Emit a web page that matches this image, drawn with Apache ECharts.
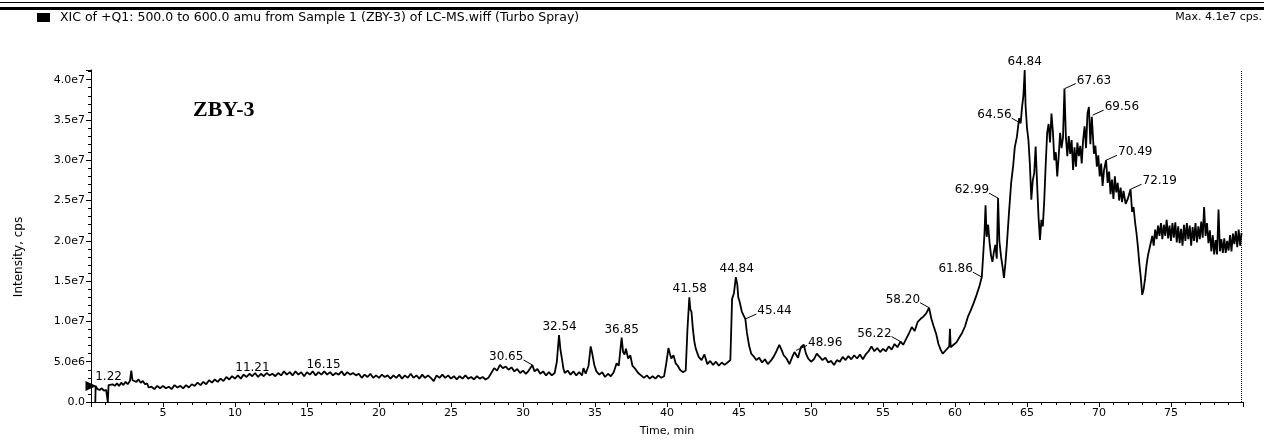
<!DOCTYPE html>
<html><head><meta charset="utf-8">
<script src="https://cdn.jsdelivr.net/npm/echarts@6/dist/echarts.min.js"></script>
<style>html,body{margin:0;padding:0;background:#fff}#c{width:1264px;height:442px}</style>
</head><body><div id="c"></div>
<script>
// XIC trace: [time (min), intensity (x1e6 cps)]
const trace = [
[0.3,0],[0.32,2.0],[0.45,1.6],[0.6,1.5],[0.75,1.7],[0.9,1.4],[1.05,1.5],[1.15,1.3],[1.17,0],[1.2,0],[1.22,2.1],[1.35,1.9],[1.5,2.2],[1.65,2.0],[1.8,2.3],[1.95,2.0],[2.1,2.4],[2.25,2.1],[2.4,2.5],[2.55,2.2],[2.7,2.6],[2.8,3.9],[2.88,2.7],[3.0,2.9],[3.15,2.5],[3.3,2.8],[3.45,2.4],[3.6,2.6],[3.75,2.2],[3.9,2.3],[4.0,1.8],
[4.2,1.9],[4.4,1.6],[4.6,2.0],[4.8,1.7],[5.0,2.0],[5.2,1.7],[5.4,1.9],[5.6,1.6],[5.8,2.1],[6.0,1.8],[6.2,2.0],[6.4,1.7],[6.6,2.1],[6.8,1.8],[7.0,2.2],
[7.2,2.0],[7.4,2.4],[7.6,2.1],[7.8,2.5],[8.0,2.2],[8.2,2.7],[8.4,2.4],[8.6,2.8],[8.8,2.5],[9.0,2.9],[9.2,2.6],
[9.4,3.1],[9.6,2.8],[9.8,3.2],[10.0,2.9],[10.2,3.3],[10.4,2.9],[10.6,3.4],[10.8,3.1],[11.0,3.5],[11.2,3.2],[11.4,3.6],[11.6,3.1],[11.8,3.5],[12.0,3.2],[12.2,3.6],[12.4,3.3],[12.6,3.5],[12.8,3.2],[13.0,3.6],
[13.2,3.3],[13.4,3.8],[13.6,3.4],[13.8,3.7],[14.0,3.3],[14.2,3.8],[14.4,3.4],[14.6,3.7],[14.8,3.2],[15.0,3.7],[15.2,3.4],[15.4,3.8],[15.6,3.3],[15.8,3.7],[16.0,3.4],[16.2,3.8],[16.4,3.4],[16.6,3.7],[16.8,3.3],[17.0,3.6],[17.2,3.4],[17.4,3.8],[17.6,3.3],[17.8,3.7],[18.0,3.4],[18.2,3.6],[18.4,3.3],
[18.6,3.5],[18.8,3.0],[19.0,3.4],[19.2,3.1],[19.4,3.5],[19.6,3.0],[19.8,3.3],[20.0,3.0],[20.2,3.4],[20.4,3.1],[20.6,3.3],[20.8,2.9],[21.0,3.3],
[21.2,3.0],[21.4,3.4],[21.6,2.9],[21.8,3.3],[22.0,3.0],[22.2,3.5],[22.4,3.0],[22.6,3.3],[22.8,2.9],[23.0,3.4],[23.2,3.0],[23.4,3.3],[23.6,3.0],[23.8,2.6],[24.0,3.3],[24.2,3.0],[24.4,3.4],
[24.6,3.0],[24.8,3.3],[25.0,2.9],[25.2,3.2],[25.4,2.8],[25.6,3.2],[25.8,2.9],[26.0,3.3],[26.2,2.9],[26.4,3.1],[26.6,2.8],[26.8,3.2],[27.0,2.9],[27.2,3.1],[27.4,2.8],[27.6,3.0],
[27.8,3.6],[28.0,4.2],[28.2,3.9],[28.4,4.6],[28.6,4.2],[28.8,4.4],[29.0,4.0],[29.2,4.3],[29.4,3.8],[29.6,4.1],[29.8,3.6],[30.0,3.9],[30.2,3.5],[30.4,3.9],[30.65,4.6],[30.8,3.8],[31.0,4.1],[31.2,3.5],[31.4,3.8],[31.6,3.3],[31.8,3.7],[32.0,3.3],[32.2,3.6],
[32.35,5.0],[32.5,8.3],[32.6,6.5],[32.7,5.4],[32.8,4.2],[32.9,3.6],[33.1,3.9],[33.3,3.4],[33.5,3.8],[33.7,3.3],[33.9,3.7],[34.1,3.3],[34.2,4.2],[34.35,3.5],
[34.55,4.5],[34.7,6.9],[34.8,6.1],[34.95,4.6],[35.1,3.8],[35.3,3.4],[35.5,3.7],[35.7,3.1],[35.9,3.5],[36.1,3.2],[36.3,3.7],
[36.5,4.8],[36.65,4.5],[36.85,8.0],[36.95,6.2],[37.05,5.9],[37.15,6.6],[37.3,5.4],[37.45,5.8],[37.6,4.5],[37.8,4.1],[38.0,3.6],[38.2,3.3],[38.4,3.0],[38.6,3.3],[38.8,2.9],[39.0,3.2],[39.2,2.9],[39.4,3.3],[39.6,3.0],[39.8,3.2],
[39.95,4.8],[40.1,6.7],[40.2,6.0],[40.3,5.4],[40.45,5.8],[40.6,4.8],[40.75,4.5],[40.9,4.0],[41.1,3.7],[41.3,3.9],
[41.42,9.0],[41.55,13.0],[41.62,11.5],[41.7,11.2],[41.8,9.0],[41.9,7.5],[42.0,6.6],[42.2,5.6],[42.4,5.2],[42.6,5.9],[42.8,4.7],[43.0,5.1],[43.2,4.6],[43.4,5.0],[43.6,4.5],[43.8,4.9],[44.0,4.6],[44.2,4.9],[44.4,5.2],
[44.52,12.8],[44.65,13.5],[44.78,15.5],[44.88,14.6],[44.95,13.0],[45.05,12.4],[45.2,11.2],[45.3,10.8],[45.44,10.3],[45.55,8.6],[45.7,7.0],[45.85,6.0],[46.0,5.7],[46.2,5.2],[46.4,5.5],[46.6,4.9],[46.8,5.3],[47.0,4.7],[47.2,5.1],[47.4,5.6],[47.6,6.3],[47.8,7.1],[47.95,6.5],[48.1,5.8],[48.3,5.4],[48.5,4.7],[48.7,5.6],[48.85,6.2],[48.96,6.4],[49.1,5.5],[49.3,6.8],[49.5,7.1],[49.65,6.0],[49.8,5.4],
[50.0,5.0],[50.2,5.3],[50.4,6.0],[50.6,5.6],[50.8,5.2],[51.0,5.5],[51.2,4.9],[51.4,5.1],[51.6,4.6],[51.8,5.2],[52.0,5.0],[52.2,5.6],[52.4,5.2],[52.6,5.7],[52.8,5.3],[53.0,5.8],[53.2,5.4],[53.4,5.9],[53.6,5.3],[53.8,5.9],[54.0,6.3],[54.2,6.9],[54.4,6.3],[54.6,6.7],[54.8,6.2],[55.0,6.6],[55.2,6.3],[55.4,6.9],[55.6,6.5],[55.8,7.2],[56.0,6.8],[56.22,7.5],[56.4,7.1],[56.6,7.8],[56.8,8.5],[57.0,9.3],[57.2,8.8],[57.4,9.9],[57.6,10.3],[57.8,10.6],[58.0,11.0],[58.2,11.7],
[58.35,10.4],[58.5,9.5],[58.7,8.4],[58.85,7.2],[59.0,6.5],[59.15,6.0],[59.3,6.3],[59.45,6.6],[59.6,6.9],[59.65,9.1],[59.7,6.8],[59.9,7.1],[60.1,7.4],[60.3,8.0],[60.5,8.6],[60.7,9.4],[60.9,10.6],[61.1,11.4],[61.3,12.3],[61.5,13.3],[61.7,14.4],[61.86,15.5],
[61.95,18.0],[62.05,21.0],[62.12,24.4],[62.2,20.5],[62.3,22.0],[62.4,19.8],[62.5,18.2],[62.6,17.4],[62.7,18.6],[62.8,19.5],[62.9,17.8],[62.99,25.3],[63.08,20.0],[63.2,18.0],[63.3,16.8],[63.4,15.4],[63.5,17.2],[63.6,19.5],[63.75,23.5],[63.9,27.2],[64.05,29.5],[64.15,31.6],[64.3,32.9],[64.45,35.2],[64.56,34.6],[64.65,36.5],[64.75,38.0],[64.84,41.2],[64.9,36.8],
[65.0,34.0],[65.1,32.5],[65.2,29.5],[65.3,25.1],[65.4,27.5],[65.5,28.4],[65.6,31.7],[65.7,27.1],[65.8,23.0],[65.9,20.1],[66.0,22.6],[66.1,21.8],[66.2,25.1],[66.3,29.5],[66.4,33.4],[66.5,34.5],[66.6,32.2],[66.7,35.8],[66.8,33.5],[66.9,30.0],[67.0,31.0],[67.1,28.0],[67.2,30.5],[67.3,33.4],[67.4,31.5],[67.5,32.8],[67.6,38.9],[67.7,32.9],[67.8,30.5],[67.9,33.0],
[68.0,30.8],[68.1,32.5],[68.2,28.8],[68.3,31.6],[68.4,29.2],[68.5,32.2],[68.6,30.5],[68.7,31.8],[68.8,29.6],[68.9,32.6],[69.0,34.2],[69.1,31.5],[69.2,35.8],[69.3,36.6],[69.4,32.0],[69.5,35.4],[69.56,35.6],[69.65,30.8],[69.75,31.8],[69.85,29.2],[69.95,30.6],
[70.05,28.0],[70.15,29.6],[70.25,26.8],[70.35,28.8],[70.49,30.0],[70.6,27.2],[70.7,28.6],[70.8,25.8],[70.9,27.6],[71.0,25.2],[71.1,28.0],[71.2,26.0],[71.3,27.2],[71.4,25.0],[71.5,26.6],[71.6,24.8],[71.7,26.2],[71.85,24.6],[72.0,25.2],[72.19,26.4],[72.3,23.6],[72.4,24.2],[72.5,22.4],[72.6,21.0],[72.7,19.3],[72.8,17.2],[72.9,15.5],
[73.0,13.3],[73.1,14.0],[73.2,15.3],[73.3,17.0],[73.4,18.2],[73.5,19.0],[73.6,19.8],[73.7,20.6],[73.8,19.4],[73.9,21.4],[74.0,20.2],[74.1,21.9],[74.2,20.6],[74.3,22.2],[74.4,20.2],[74.5,22.0],[74.6,20.6],[74.7,22.6],[74.8,20.3],[74.9,21.9],
[75.0,20.0],[75.1,22.2],[75.2,20.4],[75.3,22.3],[75.4,19.8],[75.5,21.8],[75.6,19.7],[75.7,21.5],[75.8,19.4],[75.9,22.0],[76.0,20.0],[76.1,22.2],[76.2,20.2],[76.3,21.9],[76.4,19.4],[76.5,21.7],[76.6,20.0],[76.7,22.2],[76.8,19.8],[76.9,21.8],
[77.0,20.2],[77.1,22.4],[77.2,20.4],[77.3,24.2],[77.4,20.6],[77.5,22.2],[77.6,19.7],[77.7,21.3],[77.8,18.7],[77.9,20.7],[78.0,18.3],[78.1,20.1],[78.2,18.3],[78.3,23.9],[78.4,18.7],[78.5,20.2],[78.6,18.5],[78.7,20.3],[78.8,18.5],[78.9,20.0],
[79.0,18.8],[79.1,20.7],[79.2,18.7],[79.3,20.9],[79.4,19.6],[79.5,21.2],[79.6,19.2],[79.7,21.4],[79.8,19.4],[79.9,21.0]
];

// Annotated peaks: retention time (min) and intensity at the annotation point (x1e6 cps)
const peakTimes  = [1.22, 11.21, 16.15, 30.65, 32.54, 36.85, 41.58, 44.84, 45.44, 48.96, 56.22, 58.20, 61.86, 62.99, 64.56, 64.84, 67.63, 69.56, 70.49, 72.19];
const peakValues = [2.1,  3.3,   3.6,   4.6,   8.3,   8.0,   13.0,  15.5,  10.3,  6.4,   7.5,   11.7,  15.5,  25.3,  34.6,  41.2,  38.9,  35.6,  30.0,  26.4];

const scanEnd = 79.9;
const traceStart = [0, 2.0];
const titleText = 'XIC of +Q1: 500.0 to 600.0 amu from Sample 1 (ZBY-3) of LC-MS.wiff (Turbo Spray)';
const maxText = 'Max. 4.1e7 cps.';
const sampleText = 'ZBY-3';

// --- styling: which side each peak label sits on ---
const leftLabeled = [30.65, 56.22, 58.20, 61.86, 62.99, 64.56];
const rightLabeled = [45.44, 48.96, 67.63, 69.56, 70.49, 72.19];
const FONT = 'DejaVu Sans';
const peakSide = peakTimes.map(t => leftLabeled.includes(t) ? 'left' : (rightLabeled.includes(t) ? 'right' : 'top'));

function renderPeakLabel(params, api) {
  const t = api.value(0);
  const pt = api.coord([t, api.value(1)]);
  const side = peakSide[params.dataIndex];
  const txt = t.toFixed(2);
  const font = '12px "DejaVu Sans"';
  if (side === 'top') {
    return { type: 'text', x: pt[0], y: pt[1] - 2,
      style: { text: txt, font: font, fill: '#000', align: 'center', verticalAlign: 'bottom' } };
  }
  const gap = side === 'left' ? -9 : 12;
  const dy = -8;
  return { type: 'group', children: [
    { type: 'line', shape: { x1: pt[0], y1: pt[1], x2: pt[0] + (side === 'left' ? -9 : 11), y2: pt[1] + dy + 3 },
      style: { stroke: '#000', lineWidth: 1 } },
    { type: 'text', x: pt[0] + gap, y: pt[1] + dy,
      style: { text: txt, font: font, fill: '#000', align: side === 'left' ? 'right' : 'left', verticalAlign: 'middle' } }
  ] };
}

const chart = echarts.init(document.getElementById('c'), null, { renderer: 'canvas' });
chart.setOption({
  animation: false,
  backgroundColor: '#fff',
  grid: { left: 91, right: 21, top: 70, bottom: 40 },
  xAxis: {
    type: 'value', min: 0, max: 80, interval: 5,
    name: 'Time, min', nameLocation: 'middle', nameGap: 24,
    nameTextStyle: { fontFamily: FONT, fontSize: 11, color: '#000' },
    axisLine: { show: true, onZero: false, lineStyle: { color: '#000', width: 1 } },
    axisTick: { show: true, inside: false, length: 5, lineStyle: { color: '#000' } },
    minorTick: { show: true, splitNumber: 5, length: 3, lineStyle: { color: '#000' } },
    axisLabel: { fontFamily: FONT, fontSize: 11, color: '#000', margin: 6,
      showMinLabel: false, showMaxLabel: false,
      formatter: v => (v === 0 || v === 80) ? '' : String(v) },
    splitLine: { show: false }
  },
  yAxis: {
    type: 'value', min: 0, max: 41.2, interval: 5,
    name: 'Intensity, cps', nameLocation: 'middle', nameGap: 66, nameRotate: 90,
    nameTextStyle: { fontFamily: FONT, fontSize: 12, color: '#000', padding: [0, 42, 0, 0] },
    axisLine: { show: true, lineStyle: { color: '#000', width: 1 } },
    axisTick: { show: true, inside: false, length: 5, lineStyle: { color: '#000' } },
    minorTick: { show: true, splitNumber: 5, length: 3, lineStyle: { color: '#000' } },
    axisLabel: { fontFamily: FONT, fontSize: 11, color: '#000', margin: 6, showMaxLabel: false,
      formatter: v => {
        if (v === 0) return '0.0';
        if (v > 40.5) return '';
        if (v < 10) return v.toFixed(1) + 'e6';
        return (v / 10).toFixed(1) + 'e7';
      } },
    splitLine: { show: false }
  },
  series: [
    {
      type: 'line', data: trace, showSymbol: false, symbol: 'none',
      lineStyle: { color: '#000', width: 1.8 },
      markLine: {
        silent: true, symbol: 'none', label: { show: false },
        lineStyle: { color: '#000', type: 'dotted', width: 1 },
        data: [{ xAxis: scanEnd }]
      },
      markPoint: {
        silent: true,
        data: [{ coord: traceStart, symbol: 'triangle', symbolSize: [10, 11], symbolRotate: -90,
          itemStyle: { color: '#000' }, label: { show: false } }]
      }
    },
    {
      type: 'custom', silent: true, clip: false,
      data: peakTimes.map((t, i) => [t, peakValues[i]]),
      renderItem: renderPeakLabel
    }
  ],
  graphic: [
    { type: 'rect', left: 0, top: 2, shape: { width: 1264, height: 1 }, style: { fill: '#000' } },
    { type: 'rect', left: 0, top: 7, shape: { width: 1264, height: 3 }, style: { fill: '#000' } },
    { type: 'rect', left: 37, top: 13, shape: { width: 13, height: 9 }, style: { fill: '#000' } },
    { type: 'text', left: 60, top: 11, style: { text: titleText, font: '12.5px "DejaVu Sans"', fill: '#000' } },
    { type: 'text', right: 2, top: 12, style: { text: maxText, font: '11px "DejaVu Sans"', fill: '#000' } },
    { type: 'text', left: 193, top: 99, style: { text: sampleText, font: 'bold 22px "Liberation Serif"', fill: '#000' } }
  ]
});
</script>
</body></html>
